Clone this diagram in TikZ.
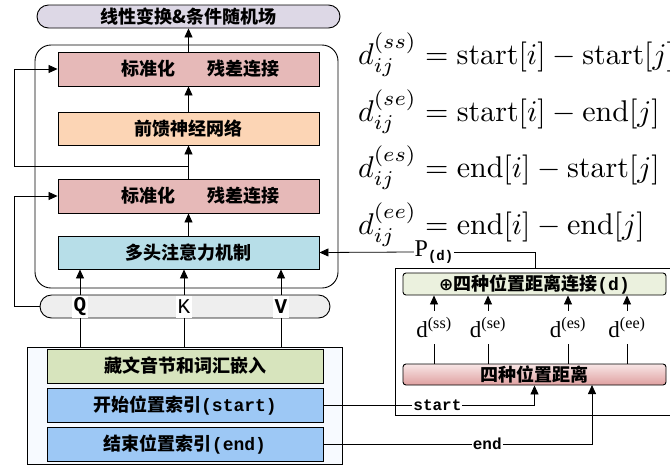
\documentclass[tikz,border=0pt]{standalone}
\usepackage{fontspec}
\newfontfamily\cjk{Noto Sans CJK SC}
\newfontfamily\monof{Liberation Mono}
\newfontfamily\seriff{Liberation Serif}
\newfontfamily\dvs{DejaVu Sans}
\usetikzlibrary{arrows.meta,shapes.misc}
\definecolor{lav}{HTML}{DDD8E6}
\definecolor{normc}{HTML}{E6B9B8}
\definecolor{ffnc}{HTML}{FCD5B5}
\definecolor{mhac}{HTML}{B7DEE8}
\definecolor{qkvc}{HTML}{EEEEEE}
\definecolor{embc}{HTML}{D7E4BD}
\definecolor{idxc}{HTML}{9DC8F5}
\definecolor{catc}{HTML}{EBF1DE}
\definecolor{botc}{HTML}{F7FAFF}
\definecolor{distt}{HTML}{F8E6E6}
\definecolor{distb}{HTML}{DFA0A0}
\newcommand\cjkfont{\cjk\bfseries\fontsize{18}{20}\selectfont}
\newcommand\dlab[1]{{\seriff\fontsize{23}{24}\selectfont d\textsuperscript{(#1)}}}
\begin{document}
\begin{tikzpicture}[x=1pt,y=-1pt, line width=0.8pt,
  arr/.style={-{Triangle[length=9pt,width=8pt]}},
  blk/.style={draw, line width=0.9pt, minimum width=261pt, minimum height=34pt, inner sep=0pt, font=\cjkfont},
  pill/.style={rounded rectangle, draw, line width=0.9pt, inner sep=0pt},
  lab/.style={fill=white, inner sep=1pt},
  eq/.style={anchor=base west, scale=3.0, inner sep=0pt},
  qkvlab/.style={lab, minimum height=22pt, inner xsep=1.5pt, font=\monof\fontsize{21}{22}\selectfont},
  onlab/.style={lab, font=\monof\bfseries\fontsize{16}{17}\selectfont}]
\useasboundingbox (0,0) rectangle (670,467);

% left column
\node[pill, fill=lav, minimum width=303pt, minimum height=23pt, font=\cjkfont] (top) at (188.5,16.5) {线性变换\&条件随机场};
\node[draw, line width=0.9pt, rounded corners=16pt, minimum width=303pt, minimum height=243pt] (outer) at (186.5,166.5) {};
\node[blk, fill=normc] (n1) at (188.5,69) {\hspace{24pt}标准化\hspace{1.8em}残差连接};
\node[blk, fill=ffnc, minimum height=33pt] (ffn) at (188.5,128.5) {前馈神经网络};
\node[blk, fill=normc] (n2) at (188.5,196) {\hspace{24pt}标准化\hspace{1.8em}残差连接};
\node[blk, fill=mhac, minimum height=33pt] (mha) at (188.5,252.5) {多头注意力机制};
\node[pill, fill=qkvc, minimum width=290pt, minimum height=23pt] (qkv) at (185,306.5) {};
\node[draw, line width=0.9pt, fill=botc, minimum width=315pt, minimum height=117pt] (bot) at (184.5,405.5) {};
\node[blk, fill=embc, minimum width=276pt] (emb) at (185,366) {藏文音节和词汇嵌入};
\node[blk, fill=idxc, minimum width=276pt] (st) at (185,405) {开始位置索引{\monof (start)}};
\node[blk, fill=idxc, minimum width=276pt] (en) at (185,444) {结束位置索引{\monof (end)}};

\node[qkvlab, font=\monof\bfseries\fontsize{21}{22}\selectfont] (Q) at (80,306.5) {Q};
\node[qkvlab] (K) at (184,306.5) {K};
\node[qkvlab, font=\monof\bfseries\fontsize{21}{22}\selectfont] (V) at (281,306.5) {V};
\foreach \n in {Q,K,V}{
  \draw[arr] (\n.north) -- (\n.north |- mha.south);
  \draw (\n.south) -- (\n.south |- bot.north);
}

\draw[arr] (mha.north) -- (n2.south);
\draw[arr] (n2.north) -- (ffn.south);
\draw[arr] (ffn.north) -- (n1.south);
\draw[arr] (n1.north) -- (top.south);

\coordinate (lx) at (14,0);
\draw[arr] (qkv.west) -- (qkv.west -| lx) |- (n2.west);
\coordinate (r2) at (188.5,166);
\draw[arr] (r2) -- (r2 -| lx) |- (n1.west);

% right part
\node[draw, line width=0.9pt, anchor=north west, minimum width=290pt, minimum height=147pt] (rb) at (395,268) {};
\node[draw, line width=0.9pt, rounded corners=3pt, fill=catc, minimum width=263pt, minimum height=22pt, font=\cjkfont, inner sep=0pt] (cat) at (534.5,284) {{\dvs\fontsize{17}{17}\selectfont ⊕}四种位置距离连接{\monof\bfseries (d)}};
\node[draw, line width=0.9pt, rounded corners=3pt, top color=distt, bottom color=distb, minimum width=263pt, minimum height=21pt, font=\cjkfont, inner sep=0pt] (dist) at (534.5,374.5) {四种位置距离};

\node[inner sep=0pt, minimum height=33pt] (dss) at (434,327.5) {\dlab{ss}};
\node[inner sep=0pt, minimum height=33pt] (dse) at (488,327.5) {\dlab{se}};
\node[inner sep=0pt, minimum height=33pt] (des) at (568,327.5) {\dlab{es}};
\node[inner sep=0pt, minimum height=33pt] (dee) at (627,327.5) {\dlab{ee}};
\foreach \n in {dss,dse,des,dee}{
  \draw[arr] (\n.north) -- (\n.north |- cat.south);
  \draw (\n.south) -- (\n.south |- dist.north);
}

\node[lab, inner sep=0.5pt] (P) at (434,252) {{\seriff\fontsize{24}{25}\selectfont P}{\monof\bfseries\fontsize{14}{14}\selectfont\raisebox{-4pt}{(d)}}};
\draw[arr] (P.west) -- (mha.east);
\coordinate (pc) at (535,268);
\draw (P.east) -| (pc);

\coordinate (ex) at (592,385);
\draw[arr] (st.east) -| node[onlab, pos=0.27] {start} (dist.south);
\draw[arr] (en.east) -| node[onlab, pos=0.305] {end} (ex);

% equations
\node[eq] (e1) at (357,64) {$d_{ij}^{(ss)} = \mathrm{start}[i]-\mathrm{start}[j]$};
\node[eq] (e2) at (357,121) {$d_{ij}^{(se)} = \mathrm{start}[i]-\mathrm{end}[j]$};
\node[eq] (e3) at (357,177) {$d_{ij}^{(es)} = \mathrm{end}[i]-\mathrm{start}[j]$};
\node[eq] (e4) at (357,234) {$d_{ij}^{(ee)} = \mathrm{end}[i]-\mathrm{end}[j]$};
\end{tikzpicture}
\end{document}
